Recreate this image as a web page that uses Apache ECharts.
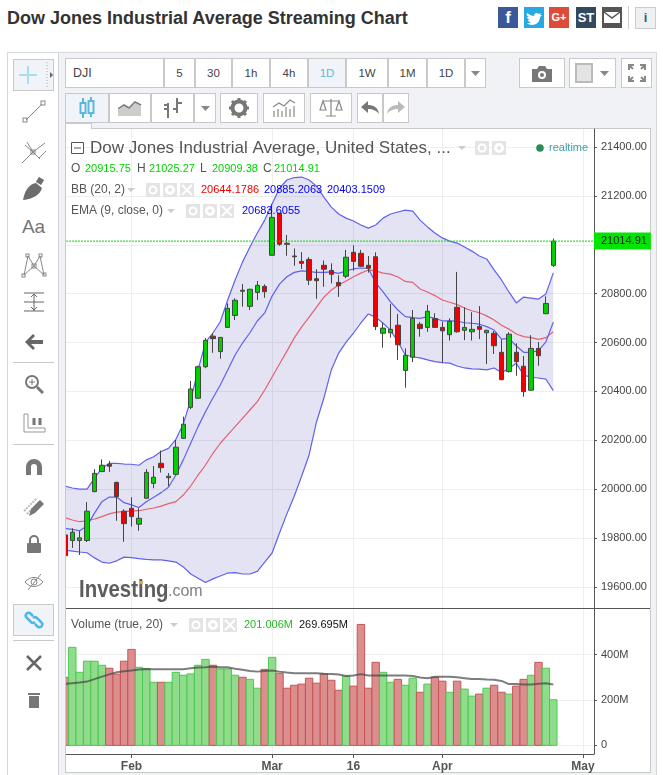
<!DOCTYPE html>
<html>
<head>
<meta charset="utf-8">
<title>Dow Jones Industrial Average Streaming Chart</title>
<script src="https://cdn.jsdelivr.net/npm/echarts@6/dist/echarts.min.js"></script>
<style>
html, body { margin: 0; padding: 0; background: #fff; width: 663px; height: 775px; overflow: hidden; font-family: "Liberation Sans", Arial, sans-serif; }
.box { position: absolute; box-sizing: border-box; }
#heading { position: absolute; left: 7px; top: 8px; font: bold 18px "Liberation Sans", Arial, sans-serif; color: #333; white-space: nowrap; }
#frame { left: 7px; top: 52px; width: 650px; height: 723px; background: #f0f2f6; border: 1px solid #d6d8dc; border-bottom: none; }
#strip { left: 8px; top: 53px; width: 51px; height: 722px; background: #fff; border-right: 1px solid #cfd2d6; }
#panel { left: 65px; top: 128px; width: 586px; height: 645px; background: #fff; border: 1px solid #c9c9c9; }
#edge { left: 59px; top: 129px; width: 7px; height: 643px; background: #f0f2f6; border-right: 1px solid #c9c9c9; }
.btn { position: absolute; box-sizing: border-box; height: 30px; background: #fff; border: 1px solid #c9c9c9; margin-left: -1px; text-align: center; font-size: 11.5px; line-height: 28px; color: #444; display: flex; align-items: center; justify-content: center; }
.sel { background: #f0f4f8; color: #5ab8dc; }
.social { position: absolute; top: 7px; width: 20px; height: 21px; color: #fff; font-weight: bold; text-align: center; line-height: 21px; font-size: 12px; }
.tool { position: absolute; left: 13px; width: 41px; height: 32px; display: flex; align-items: center; justify-content: center; box-sizing: border-box; font-size: 18px; color: #777; }
.toolsel { background: #f0f4f8; border: 1px solid #c9c9c9; }
.sep { position: absolute; left: 13px; width: 41px; height: 1px; background: #c9c9c9; }
#chart { position: absolute; left: 0; top: 0; width: 663px; height: 775px; }
</style>
</head>
<body>
<div id="heading">Dow Jones Industrial Average Streaming Chart</div>
<div class="social" style="left:498px;background:#3b5998;font-size:17px">f</div>
<div class="social" style="left:524px;background:#29a9e1"><svg width="20" height="21" viewBox="0 0 20 21"><path d="M3 6c3 2 5 3 7 3 0-3 3-4 5-2l2-1-1 2 2 0-2 2c0 5-4 8-8 8-2 0-4-1-5-2 2 0 3 0 4-1-2 0-3-1-3-2h2c-2-1-3-2-3-3l2 0C3 9 2 8 3 6z" fill="#fff"/></svg></div>
<div class="social" style="left:549px;background:#dd4b39;font-size:11px">G+</div>
<div class="social" style="left:576px;background:#34495e;font-size:13px">ST</div>
<div class="social" style="left:602px;background:#555"><svg width="20" height="21" viewBox="0 0 20 21"><rect x="2" y="5" width="16" height="11" fill="#fff"/><path d="M2 5l8 6 8-6" stroke="#555" stroke-width="1.5" fill="none"/></svg></div>
<div class="box" style="left:628px;top:6px;width:1px;height:23px;background:#ccc"></div>
<div class="social" style="left:635px;width:21px;height:22px;background:#eef0f2;border:1px solid #ccc;box-sizing:border-box;color:#2c5f7c;line-height:20px;font-size:13px">i</div>

<div id="frame" class="box"></div>
<div id="strip" class="box"></div>
<div id="panel" class="box"></div>
<div class="box" style="left:65px;top:123px;width:27px;height:6px;background:#fff;border:1px solid #c9c9c9;border-bottom:none"></div>

<div id="tabs"></div>
<div id="tools"></div>
<div id="chart"></div>
<div id="edge" class="box"></div>

<script>
// 数据 (pos 0 is the cut off candle on the left edge)
var opens = [19813,19790,19790,19790,19990,20072,20102,20028,19910,19922,19857,19963,20024,20106,20047,20061,20208,20335,20372,20501,20626,20563,20662,20711,20814,20748,20805,20830,20957,21129,21006,20954,20932,20940,20861,20916,20895,20846,20871,20969,20965,20916,20951,20638,20640,20671,20486,20540,20675,20662,20698,20662,20632,20744,20650,20644,20666,20640,20638,20560,20481,20560,20503,20405,20576,20718,20915.75];
var closes = [19728,19824,19801,19910,20065,20098,20094,19970,19859,19888,19881,20069,20049,20088,20053,20172,20266,20410,20501,20609,20616,20621,20740,20773,20810,20818,20834,20808,21112,21002,21002,20951,20924,20855,20853,20900,20879,20832,20949,20932,20912,20904,20665,20659,20654,20591,20548,20699,20657,20728,20662,20648,20687,20644,20662,20654,20654,20650,20587,20448,20634,20522,20399,20576,20546,20760,21014.91];
var lows = [19720,19760,19731,19784,19988,20071,20071,19871,19785,19847,19830,19961,20004,20068,20013,20058,20206,20327,20370,20495,20558,20534,20660,20692,20747,20733,20774,20783,20957,20996,20955,20914,20901,20835,20779,20828,20842,20787,20863,20894,20909,20886,20651,20579,20620,20529,20415,20520,20624,20644,20661,20518,20608,20640,20610,20608,20614,20512,20553,20446,20478,20464,20378,20403,20505,20716,20909.38];
var highs = [19825,19840,19830,19947,20082,20122,20116,20030,19918,19967,19922,20082,20095,20158,20066,20201,20297,20443,20505,20619,20638,20623,20760,20781,20839,20820,20852,20838,21167,21130,21040,20985,20970,20949,20900,20936,20924,20875,20979,20998,20979,20954,20969,20681,20758,20717,20576,20733,20684,20754,20720,20685,20699,20889,20744,20724,20749,20652,20647,20613,20642,20597,20545,20630,20602,20789,21025.27];
var bbUpper = [20013,20005,20000,20000,20045,20086,20106,20106,20103,20102,20098,20120,20133,20154,20167,20204,20267,20365,20488,20602,20639,20685,20774,20856,20929,20991,21048,21101,21167,21232,21265,21275,21277,21265,21240,21195,21154,21126,21109,21097,21081,21068,21081,21109,21126,21134,21142,21138,21101,21073,21048,21028,21015,21007,20991,20974,20954,20942,20897,20856,20807,20762,20786,20782,20778,20799,20885.21];
var bbLower = [19751,19747,19743,19740,19719,19702,19697,19707,19722,19720,19716,19713,19711,19711,19707,19702,19682,19653,19636,19618,19633,19645,19657,19659,19653,19653,19664,19702,19739,19821,19899,19972,20054,20140,20275,20373,20488,20557,20602,20639,20680,20717,20704,20679,20651,20603,20549,20542,20537,20529,20522,20518,20516,20504,20496,20492,20491,20488,20496,20477,20494,20515,20467,20458,20455,20450,20403.15];
var bbMedian = [19884,19874,19867,19871,19878,19888,19899,19906,19908,19911,19912,19918,19923,19931,19941,19949,19976,20013,20058,20099,20147,20188,20222,20256,20290,20324,20358,20406,20459,20512,20565,20619,20664,20704,20745,20786,20815,20835,20852,20869,20884,20897,20893,20884,20880,20868,20850,20846,20819,20807,20792,20774,20765,20755,20741,20730,20722,20709,20692,20671,20655,20635,20624,20620,20613,20620,20644.18];
var ema9 = [19840,19836,19830,19850,19902,19949,19968,19968,19945,19936,19925,19949,19967,19986,20008,20058,20120,20188,20256,20317,20373,20426,20488,20549,20598,20640,20688,20721,20790,20839,20869,20887,20893,20890,20887,20887,20889,20883,20893,20901,20905,20904,20844,20807,20766,20733,20706,20702,20699,20706,20699,20689,20689,20688,20681,20679,20675,20665,20651,20614,20617,20586,20560,20560,20567,20603,20683.61];
var volumes = [300,432,322,371,371,353,340,314,371,423,344,338,278,278,278,322,309,315,353,379,353,337,337,309,300,291,252,335,388,318,252,265,270,296,274,315,287,243,305,261,533,252,366,322,278,291,265,296,234,270,300,283,234,283,248,217,226,252,265,234,226,261,291,309,366,340,201];
var volUp = [0,1,1,1,1,1,0,0,0,0,1,1,1,0,1,1,1,1,1,1,0,1,1,1,0,1,1,0,1,0,0,0,0,0,0,0,0,0,1,0,0,0,0,1,1,0,1,1,0,1,0,0,1,0,1,1,0,1,0,0,1,0,0,1,0,1,1];
var volMA = [271,274,277,281,292,303,313,322,327,330,334,337,335,335,335,335,335,340,343,344,347,344,344,338,333,328,325,328,330,325,321,318,318,318,318,316,315,312,306,308,314,308,308,308,308,308,308,306,299,296,302,302,302,300,296,292,292,290,289,284,270,271,268,268,272,274,268];
var dateTicks = [9, 28, 39, 51, 70];
var dateLabels = ['Feb', 'Mar', '16', 'Apr', 'May'];
var priceTicks = [19600, 19800, 20000, 20200, 20400, 20600, 20800, 21000, 21200, 21400];
var volumeTicks = [0, 200, 400];
var lastPrice = 21014.91;

// 工具栏按钮
var tabsBox = document.getElementById('tabs');
function addBtn(left, right, top, html, cls) {
    var d = document.createElement('div');
    d.className = 'btn ' + (cls || '');
    d.style.left = (left + 1) + 'px';
    d.style.top = top + 'px';
    d.style.width = (right - left) + 'px';
    d.innerHTML = html;
    tabsBox.appendChild(d);
}
var caret = '<svg width="11" height="7"><path d="M1 1h9l-4.5 5z" fill="#888"/></svg>';
addBtn(65, 164, 58, '<span style="position:absolute;left:7px;font-size:12.5px">DJI</span>');
var tabNames = ['5', '30', '1h', '4h', '1D', '1W', '1M', '1D'];
var tabEdges = [164, 195, 232, 270, 308, 346, 388, 427, 465];
for (var t = 0; t < tabNames.length; t++) {
    addBtn(tabEdges[t], tabEdges[t + 1], 58, tabNames[t], t == 4 ? 'sel' : '');
}
addBtn(465, 486, 58, caret);
addBtn(519, 565, 58, '<svg width="22" height="17"><path d="M1 4h5l2-3h6l2 3h5v13H1z" fill="#777"/><circle cx="11" cy="10" r="4" fill="#fff"/><circle cx="11" cy="10" r="2" fill="#777"/></svg>');
addBtn(569, 616, 58, '<svg width="18" height="20" style="margin-right:6px"><rect x="1" y="1" width="16" height="18" fill="#e4e4e4" stroke="#bbb" stroke-width="2"/></svg>' + caret);
addBtn(621, 652, 58, '<svg width="18" height="18"><g fill="none" stroke="#888" stroke-width="2"><path d="M1 6V1h5M1 1l4 4M17 6V1h-5M17 1l-4 4M1 12v5h5M1 17l4-4M17 12v5h-5M17 17l-4-4"/></g></svg>');
addBtn(65, 109, 93, '<svg width="16" height="22" fill="none" stroke="#5ab8dc" stroke-width="2"><rect x="1.5" y="6" width="5" height="10"/><rect x="9.5" y="4" width="5" height="12"/><path d="M4 1v5M4 16v5M12 0v4M12 16v4"/></svg>', 'sel');
addBtn(109, 151, 93, '<svg width="24" height="16"><path d="M0 10l6-4 5 3 6-6 6 3v10H0z" fill="#ccc"/><path d="M0 9l6-4 5 3 6-6 6 3" fill="none" stroke="#777" stroke-width="1.5"/></svg>');
addBtn(151, 194, 93, '<svg width="20" height="22" fill="none" stroke="#777" stroke-width="2"><path d="M5 6v15M1 12h4M5 8H1M14 1v15M14 6h5M14 12h-4"/></svg>');
addBtn(194, 216, 93, caret);
addBtn(220, 258, 93, '<svg width="20" height="20"><circle cx="10" cy="10" r="6.5" fill="none" stroke="#777" stroke-width="4"/><g stroke="#777" stroke-width="3"><path d="M10 0v4M10 16v4M0 10h4M16 10h4M3 3l3 3M14 14l3 3M3 17l3-3M14 6l3-3"/></g></svg>');
addBtn(263, 305, 93, '<svg width="24" height="20" fill="none" stroke="#888" stroke-width="1.2"><path d="M2 13v6M6 11v8M10 13v6M14 9v10M18 11v8M22 8v11"/><path d="M1 9l6-4 5 3 6-6 5 3"/></svg>');
addBtn(310, 352, 93, '<svg width="24" height="20" fill="none" stroke="#888" stroke-width="1.2"><path d="M12 1v17M4 3h16M7 18h10M4 3l-3 9h6zM20 3l-3 9h6z"/></svg>');
addBtn(357, 383, 93, '<svg width="18" height="14"><path d="M0 6l7-6v4c5 0 10 2 11 9-2-3-6-5-11-5v4z" fill="#777"/></svg>');
addBtn(383, 409, 93, '<svg width="18" height="14"><path d="M18 6l-7-6v4C6 4 1 6 0 13c2-3 6-5 11-5v4z" fill="#bbb"/></svg>');

// 左侧工具
var toolsBox = document.getElementById('tools');
function addTool(top, html, cls) {
    var d = document.createElement('div');
    d.className = 'tool ' + (cls || '');
    d.style.top = (top - 16) + 'px';
    d.innerHTML = html;
    toolsBox.appendChild(d);
}
var stroke = 'fill="none" stroke="#888" stroke-width="1"';
addTool(75, '<svg width="38" height="30"><path d="M13 6v18M4 15h18" stroke="#a6def2" stroke-width="2"/><path d="M32 2v26" stroke="#aaa" stroke-dasharray="1 2"/><path d="M35 12l3 3-3 3z" fill="#666"/></svg>', 'toolsel');
addTool(112, '<svg width="24" height="24" ' + stroke + '><path d="M4 20L20 4"/><rect x="1" y="18" width="4" height="4"/><rect x="19" y="1" width="4" height="4"/></svg>');
addTool(152, '<svg width="26" height="24" ' + stroke + '><path d="M1 23L12 12M4 5l8 7 7 7M12 12L6 2M12 12l12-9M18 18l7-7"/><rect x="10" y="10" width="4" height="4"/></svg>');
addTool(189, '<svg width="24" height="24"><path d="M1 23C3 12 8 7 14 6l6 5c-2 7-9 11-19 12z" fill="#6d6d6d"/><rect x="15" y="1" width="6" height="6" fill="#6d6d6d" transform="rotate(30 18 4)"/></svg>');
addTool(227, '<span style="font-size:19px">Aa</span>');
addTool(265, '<svg width="26" height="26" ' + stroke + '><path d="M3 23L7 4l6 10 6-10 4 19-10-9z"/><rect x="5" y="2" width="3" height="3"/><rect x="18" y="2" width="3" height="3"/><rect x="1" y="22" width="3" height="3"/><rect x="22" y="21" width="3" height="3"/><rect x="11" y="12" width="4" height="4"/></svg>');
addTool(302, '<svg width="22" height="22" fill="none" stroke="#999" stroke-width="1.5"><path d="M1 2h20M1 11h20M1 20h20"/><path d="M11 3v17M8 6l3-3 3 3M8 16l3 3 3-3" stroke="#666" stroke-width="1"/></svg>');
addTool(342, '<svg width="20" height="16"><path d="M9 0L1 8l8 8 2-2-4-4h12V6H7l4-4z" fill="#666"/></svg>');
addTool(384, '<svg width="20" height="20" fill="none" stroke="#777" stroke-width="2"><circle cx="8" cy="8" r="6"/><path d="M13 13l6 6" stroke-width="3"/><path d="M8 5v6M5 8h6" stroke-width="1"/></svg>');
addTool(423, '<svg width="24" height="20" fill="none" stroke="#999"><path d="M2 1v18h21v-4H6V1z"/><path d="M12 12V5M18 12V5" stroke="#777" stroke-width="3"/></svg>');
addTool(467, '<svg width="16" height="16"><path d="M0 16V8a8 8 0 0 1 16 0v8h-5V8a3 3 0 0 0-6 0v8z" fill="#777"/></svg>');
addTool(506, '<svg width="22" height="22"><path d="M1 16L14 3M4 19L17 6" stroke="#bbb" stroke-width="2" stroke-dasharray="2 1"/><path d="M6 21l2-7 9-9 4 4-9 9z" fill="#777"/></svg>');
addTool(544, '<svg width="14" height="18"><path d="M3 8V5a4 4 0 0 1 8 0v3" fill="none" stroke="#777" stroke-width="2"/><rect y="8" width="14" height="10" rx="1" fill="#777"/></svg>');
addTool(582, '<svg width="20" height="18" fill="none" stroke="#888"><path d="M1 9c5-6 13-6 18 0-5 6-13 6-18 0z"/><circle cx="10" cy="9" r="3"/><path d="M4 17L17 1"/></svg>');
addTool(620, '<svg width="20" height="20" fill="none" stroke="#4db8e8" stroke-width="2.5"><path d="M9 6L6 3a3 3 0 0 0-4 4l5 5a3 3 0 0 0 4 0"/><path d="M11 14l3 3a3 3 0 0 0 4-4l-5-5a3 3 0 0 0-4 0"/></svg>', 'toolsel');
addTool(663, '<svg width="16" height="16" stroke="#666" stroke-width="2.5"><path d="M1 1l14 14M15 1L1 15"/></svg>');
addTool(700, '<svg width="12" height="16"><path d="M0 1h12v2H0zM1 4h10v12H1z" fill="#777"/></svg>');
[362, 444, 640].forEach(function (y) {
    var d = document.createElement('div');
    d.className = 'sep';
    d.style.top = y + 'px';
    toolsBox.appendChild(d);
});

// 图表
var xMin = 0.149, xMax = 71.5;
var candleData = opens.map(function (o, i) { return [i, o, closes[i], lows[i], highs[i]]; });
function linePoints(arr) { return arr.map(function (v, i) { return [i, v]; }); }
function lineSeries(name, arr, color) {
    return {
        name: name, type: 'line', data: linePoints(arr), symbol: 'none', z: 4,
        xAxisIndex: 0, yAxisIndex: 0, clip: true,
        lineStyle: { color: color, width: 1.2 }, silent: true
    };
}
var volumeData = volumes.map(function (v, i) {
    return {
        value: [i, v],
        itemStyle: volUp[i] ? { color: '#90dc8c', borderColor: '#4cc94f' } : { color: '#dc8e8e', borderColor: '#c95555' }
    };
});

// 图例文字
var textFont = '12px "Liberation Sans", Arial, sans-serif';
var numFont = '11px "Liberation Sans", Arial, sans-serif';
var marks = [];
function txt(x, y, s, color, font) {
    marks.push({ type: 'text', z: 20, silent: true, style: { x: x, y: y, text: s, fill: color, font: font || textFont, verticalAlign: 'middle' } });
}
function legendIcons(x, y, count) {
    for (var n = 0; n < count; n++) {
        var cx = x + 8 + n * 17;
        marks.push({ type: 'rect', z: 20, silent: true, shape: { x: cx - 7, y: y - 7, width: 14, height: 14 }, style: { fill: '#e4e4e4' } });
        if (n == 0) marks.push({ type: 'ring', z: 21, silent: true, shape: { cx: cx, cy: y, r: 4.5, r0: 2.5 }, style: { fill: '#fff' } });
        if (n == 1) marks.push({ type: 'ring', z: 21, silent: true, shape: { cx: cx, cy: y, r: 5, r0: 2 }, style: { fill: '#fff' } });
        if (n == 2) {
            marks.push({ type: 'line', z: 21, silent: true, shape: { x1: cx - 5, y1: y - 5, x2: cx + 5, y2: y + 5 }, style: { stroke: '#fff', lineWidth: 2 } });
            marks.push({ type: 'line', z: 21, silent: true, shape: { x1: cx + 5, y1: y - 5, x2: cx - 5, y2: y + 5 }, style: { stroke: '#fff', lineWidth: 2 } });
        }
    }
}
function legendCaret(x, y) {
    marks.push({ type: 'polygon', z: 20, silent: true, shape: { points: [[x - 4, y - 2], [x + 4, y - 2], [x, y + 2]] }, style: { fill: '#ccc' } });
}
marks.push({ type: 'rect', z: 20, silent: true, shape: { x: 71.5, y: 142.5, width: 12, height: 11 }, style: { fill: '#fff', stroke: '#555' } });
marks.push({ type: 'line', z: 20, silent: true, shape: { x1: 74, y1: 148, x2: 81, y2: 148 }, style: { stroke: '#555' } });
txt(90, 148, 'Dow Jones Industrial Average, United States, ...', '#555', '17px "Liberation Sans", Arial, sans-serif');
legendCaret(462, 148);
legendIcons(474, 148, 2);
marks.push({ type: 'circle', z: 20, silent: true, shape: { cx: 540, cy: 148, r: 3.8 }, style: { fill: '#2e8b57' } });
txt(549, 148, 'realtime', '#3a9fa5', numFont);
txt(71, 169, 'O', '#555'); txt(85, 169, '20915.75', '#00d400', numFont);
txt(137, 169, 'H', '#555'); txt(149, 169, '21025.27', '#00d400', numFont);
txt(200, 169, 'L', '#555'); txt(212, 169, '20909.38', '#00d400', numFont);
txt(263, 169, 'C', '#555'); txt(274, 169, '21014.91', '#00d400', numFont);
txt(71, 190, 'BB (20, 2)', '#555');
legendCaret(131, 190);
legendIcons(145, 190, 3);
txt(201, 190, '20644.1786', '#f00000', numFont);
txt(264, 190, '20885.2063', '#0000ee', numFont);
txt(327, 190, '20403.1509', '#0000ee', numFont);
txt(71, 211, 'EMA (9, close, 0)', '#555');
legendCaret(171, 211);
legendIcons(185, 211, 3);
txt(242, 211, '20683.6055', '#0000ee', numFont);
txt(71, 625, 'Volume (true, 20)', '#555');
legendCaret(174, 625);
legendIcons(188, 625, 3);
txt(244, 625, '201.006M', '#22bb22', numFont);
txt(299, 625, '269.695M', '#111', numFont);
// 水印
marks.push({
    type: 'text', z: 20, silent: true, x: 79, y: 590, scaleX: 0.85,
    style: { x: 0, y: 0, text: 'Investing', fill: '#5d5d5d', font: 'bold 24px "Liberation Sans", Arial, sans-serif', verticalAlign: 'middle' }
});
marks.push({ type: 'rect', z: 21, silent: true, shape: { x: 139, y: 581, width: 4, height: 3 }, style: { fill: '#e8a33d' } });
txt(168, 592, '.com', '#808080', '16px "Liberation Sans", Arial, sans-serif');
// 分隔线
marks.push({ type: 'line', z: 20, silent: true, shape: { x1: 66, y1: 608.5, x2: 650, y2: 608.5 }, style: { stroke: '#555' } });

var chart = echarts.init(document.getElementById('chart'));
var option = {
    animation: false,
    backgroundColor: 'transparent',
    textStyle: { fontFamily: '"Liberation Sans", Arial, sans-serif' },
    grid: [
        { left: 66, width: 528, top: 129, height: 479 },
        { left: 66, width: 528, top: 609, height: 145 }
    ],
    xAxis: [{
        type: 'value', gridIndex: 0, min: xMin, max: xMax,
        axisLine: { show: false }, axisTick: { show: false, customValues: dateTicks },
        axisLabel: { show: false, customValues: dateTicks },
        splitLine: { show: true, customValues: dateTicks, lineStyle: { color: '#eeeeee' } }
    }, {
        type: 'value', gridIndex: 1, min: xMin, max: xMax,
        axisLine: { show: true, onZero: false, lineStyle: { color: '#555' } },
        axisTick: { show: true, customValues: dateTicks, length: 4, lineStyle: { color: '#555' } },
        axisLabel: {
            customValues: dateTicks, color: '#555', fontWeight: 'bold', fontSize: 12, margin: 7,
            showMinLabel: true, showMaxLabel: true,
            formatter: function (v) { return dateLabels[dateTicks.indexOf(v)]; }
        },
        splitLine: { show: true, customValues: dateTicks, lineStyle: { color: '#eeeeee' } }
    }],
    yAxis: [{
        type: 'value', gridIndex: 0, position: 'right', min: 19514, max: 21473.6, scale: true,
        axisLine: { show: true, lineStyle: { color: '#555' } },
        axisTick: { show: true, customValues: priceTicks, length: 3, lineStyle: { color: '#555' } },
        axisLabel: {
            customValues: priceTicks, color: '#444', fontSize: 11, margin: 7,
            formatter: function (v) { return v.toFixed(2); }
        },
        splitLine: { show: true, customValues: priceTicks, lineStyle: { color: '#eeeeee' } }
    }, {
        type: 'value', gridIndex: 1, position: 'right', min: -38, max: 601,
        axisLine: { show: true, lineStyle: { color: '#555' } },
        axisTick: { show: true, customValues: volumeTicks, length: 3, lineStyle: { color: '#555' } },
        axisLabel: {
            customValues: volumeTicks, color: '#444', fontSize: 11, margin: 7,
            formatter: function (v) { return v == 0 ? '0' : v + 'M'; }
        },
        splitLine: { show: true, customValues: volumeTicks, lineStyle: { color: '#eeeeee' } }
    }],
    series: [{
        // 布林带填充
        type: 'custom', xAxisIndex: 0, yAxisIndex: 0, z: 2, silent: true, clip: true,
        data: [[0, bbUpper[0]]],
        renderItem: function (params, api) {
            var points = [];
            for (var i = 0; i < bbUpper.length; i++) points.push(api.coord([i, bbUpper[i]]));
            for (var j = bbLower.length - 1; j >= 0; j--) points.push(api.coord([j, bbLower[j]]));
            return { type: 'polygon', shape: { points: points }, style: { fill: 'rgba(60,60,170,0.14)' } };
        }
    },
    lineSeries('BB upper', bbUpper, '#6060f0'),
    lineSeries('BB lower', bbLower, '#6060f0'),
    lineSeries('BB median', bbMedian, '#e8606f'),
    lineSeries('EMA', ema9, '#6060f0'),
    {
        name: 'DJI', type: 'candlestick', xAxisIndex: 0, yAxisIndex: 0, z: 5, clip: true,
        data: candleData, barWidth: 5,
        itemStyle: { color: '#00d000', color0: '#f00000', borderColor: '#444', borderColor0: '#444', borderWidth: 1 }
    }, {
        // 最新价虚线
        name: 'Last', type: 'line', xAxisIndex: 0, yAxisIndex: 0, z: 6, symbol: 'none', silent: true,
        data: [[xMin, lastPrice], [xMax, lastPrice]],
        lineStyle: { color: '#00e000', type: [2, 1], width: 1 },
        endLabel: {
            show: true, distance: 0, formatter: lastPrice.toFixed(2), color: '#222',
            fontSize: 11, backgroundColor: '#00e600', padding: [3, 4, 3, 7]
        }
    }, {
        name: 'Volume', type: 'bar', xAxisIndex: 1, yAxisIndex: 1, z: 3,
        data: volumeData, barWidth: 7.4, clip: true
    }, {
        name: 'Volume MA', type: 'line', xAxisIndex: 1, yAxisIndex: 1, z: 4, symbol: 'none',
        data: linePoints(volMA), silent: true,
        lineStyle: { color: 'rgba(70,70,70,0.7)', width: 2 }
    }],
    graphic: { elements: marks }
};
chart.setOption(option);
</script>
</body>
</html>
